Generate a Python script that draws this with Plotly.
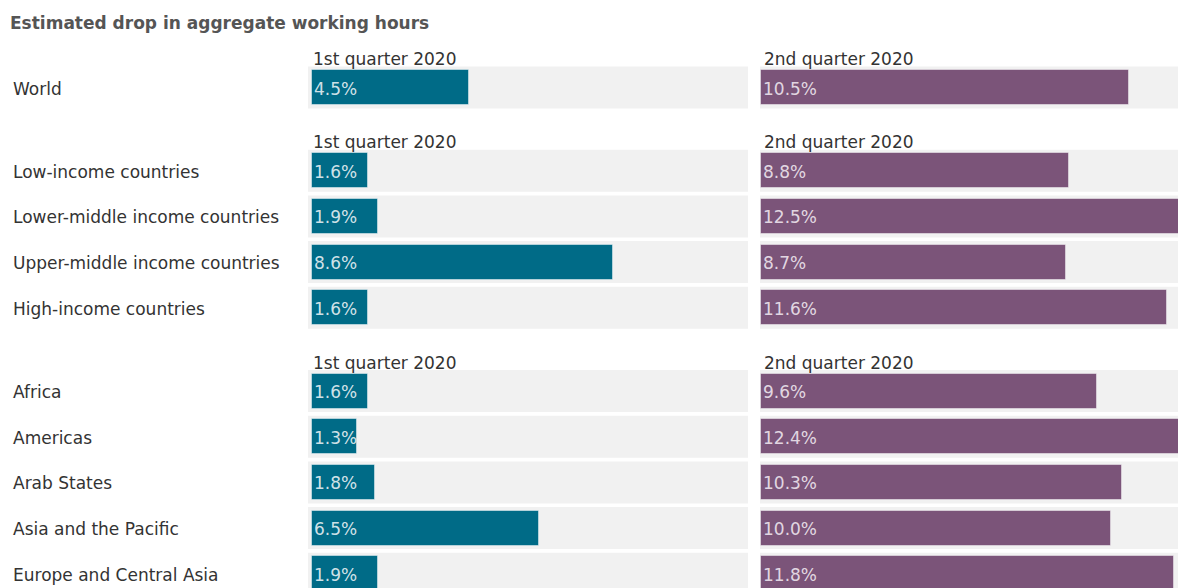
import plotly.graph_objects as go

# ---- data ----
title = "Estimated drop in aggregate working hours"
q1_label = "1st quarter 2020"
q2_label = "2nd quarter 2020"
groups = [
    ["World"],
    ["Low-income countries", "Lower-middle income countries",
     "Upper-middle income countries", "High-income countries"],
    ["Africa", "Americas", "Arab States", "Asia and the Pacific",
     "Europe and Central Asia"],
]
q1_values = [4.5, 1.6, 1.9, 8.6, 1.6, 1.6, 1.3, 1.8, 6.5, 1.9]
q2_values = [10.5, 8.8, 12.5, 8.7, 11.6, 9.6, 12.4, 10.3, 10.0, 11.8]

# ---- layout constants (reference-page pixels) ----
PAGE_W, PAGE_H = 1186, 588
OFF = 8                     # browser body margin
W, H = PAGE_W - OFF, PAGE_H - OFF
FONT = "DejaVu Sans"
FS = 17
TEAL = "#006B87"
PURPLE = "#7B5479"
BAND = "#F1F1F1"
TXT = "#333333"
first_row = 87.5 - OFF
pitch = 45.7
group_gap = 37.5
bar_h = 35
band_h = 42
px_per_unit = 35.0

categories = []
ypos = []
group_first = []
for gi, g in enumerate(groups):
    for ri, name in enumerate(g):
        y = first_row + len(categories) * pitch + gi * group_gap
        if ri == 0:
            group_first.append(y)
        categories.append(name)
        ypos.append(y)

# panel pixel extents (figure coords)
L0, L1, LB = 308 - OFF, 748 - OFF, 311.7 - OFF   # band start, band end, bar zero
R0, R1, RB = 760 - OFF, W, 761.3 - OFF
lrange = [-(LB - L0) / px_per_unit, (L1 - LB) / px_per_unit]
rrange = [-(RB - R0) / px_per_unit, (R1 - RB) / px_per_unit]

fig = go.Figure()

fig.add_trace(go.Bar(
    x=q1_values, y=ypos, orientation="h", width=bar_h,
    marker=dict(color=TEAL, line=dict(color="rgba(255,255,255,0.45)", width=1)),
    xaxis="x", yaxis="y", hoverinfo="skip", showlegend=False,
))
fig.add_trace(go.Bar(
    x=q2_values, y=ypos, orientation="h", width=bar_h,
    marker=dict(color=PURPLE, line=dict(color="rgba(255,255,255,0.45)", width=1)),
    xaxis="x2", yaxis="y", hoverinfo="skip", showlegend=False,
))

shapes = []
for y in ypos:
    for xr in ("x domain", "x2 domain"):
        shapes.append(dict(type="rect", xref=xr, yref="y", x0=0, x1=1,
                           y0=y - band_h / 2, y1=y + band_h / 2,
                           fillcolor=BAND, line=dict(width=0), layer="below"))


def txt(text, x, y, xref="paper", color=TXT, yshift=-1):
    return dict(text=text, x=x, y=y, xref=xref, yref="y", xanchor="left",
                yanchor="middle", showarrow=False, yshift=yshift,
                font=dict(family=FONT, size=FS, color=color))


annotations = [txt(f"<b>{title}</b>", 0, 22 - OFF, color="#555555")]
for name, y in zip(categories, ypos):
    annotations.append(txt(name, 3 / W, y))
for y in group_first:
    annotations.append(txt(q1_label, 303 / W, y - 29.5))
    annotations.append(txt(q2_label, 754 / W, y - 29.5))
for v, y in zip(q1_values, ypos):
    annotations.append(txt(f"{v:.1f}%", 0, y, xref="x", color="rgba(235,242,245,0.9)"))
for v, y in zip(q2_values, ypos):
    annotations.append(txt(f"{v:.1f}%", 0, y, xref="x2", color="rgba(240,232,240,0.9)"))

axis_off = dict(showgrid=False, zeroline=False, showticklabels=False, showline=False, ticks="")
fig.update_layout(
    width=W, height=H,
    margin=dict(l=0, r=0, t=0, b=0),
    paper_bgcolor="white", plot_bgcolor="white",
    xaxis=dict(domain=[L0 / W, L1 / W], range=lrange, **axis_off),
    xaxis2=dict(domain=[R0 / W, 1], range=rrange, anchor="y", **axis_off),
    yaxis=dict(range=[H, 0], **axis_off),
    shapes=shapes, annotations=annotations,
    font=dict(family=FONT),
    showlegend=False, bargap=0,
)

fig.write_html("out.html")
